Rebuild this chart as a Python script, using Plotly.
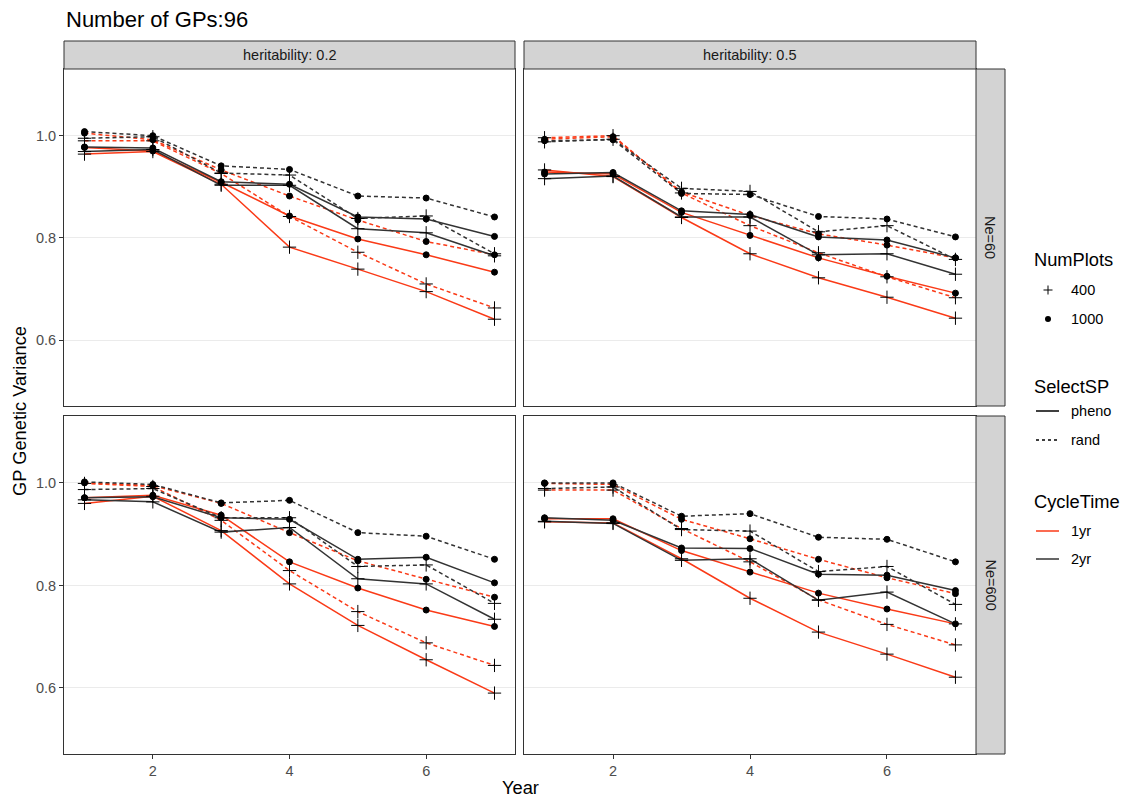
import plotly.graph_objects as go

years = [1, 2, 3, 4, 5, 6, 7]

# heritability 0.2, Ne=60
h02_ne60_1yr_pheno_400 = [0.964, 0.969, 0.905, 0.782, 0.739, 0.695, 0.641]
h02_ne60_1yr_pheno_1000 = [0.977, 0.970, 0.909, 0.843, 0.798, 0.767, 0.733]
h02_ne60_1yr_rand_400 = [0.990, 0.990, 0.926, 0.842, 0.772, 0.710, 0.663]
h02_ne60_1yr_rand_1000 = [1.005, 0.992, 0.933, 0.882, 0.835, 0.793, 0.767]
h02_ne60_2yr_pheno_400 = [0.969, 0.973, 0.903, 0.903, 0.818, 0.810, 0.765]
h02_ne60_2yr_pheno_1000 = [0.978, 0.976, 0.910, 0.905, 0.841, 0.837, 0.803]
h02_ne60_2yr_rand_400 = [0.995, 0.998, 0.927, 0.923, 0.838, 0.843, 0.769]
h02_ne60_2yr_rand_1000 = [1.008, 1.000, 0.941, 0.934, 0.882, 0.878, 0.841]

# heritability 0.5, Ne=60
h05_ne60_1yr_pheno_400 = [0.933, 0.920, 0.840, 0.769, 0.722, 0.684, 0.643]
h05_ne60_1yr_pheno_1000 = [0.929, 0.925, 0.850, 0.805, 0.761, 0.725, 0.692]
h05_ne60_1yr_rand_400 = [0.996, 1.000, 0.888, 0.824, 0.771, 0.724, 0.683]
h05_ne60_1yr_rand_1000 = [0.993, 0.998, 0.890, 0.844, 0.808, 0.786, 0.761]
h05_ne60_2yr_pheno_400 = [0.916, 0.921, 0.841, 0.841, 0.767, 0.769, 0.729]
h05_ne60_2yr_pheno_1000 = [0.925, 0.928, 0.853, 0.846, 0.802, 0.796, 0.761]
h05_ne60_2yr_rand_400 = [0.988, 0.993, 0.897, 0.891, 0.812, 0.824, 0.758]
h05_ne60_2yr_rand_1000 = [0.990, 0.992, 0.887, 0.885, 0.842, 0.837, 0.802]

# heritability 0.2, Ne=600
h02_ne600_1yr_pheno_400 = [0.960, 0.974, 0.907, 0.803, 0.722, 0.655, 0.590]
h02_ne600_1yr_pheno_1000 = [0.971, 0.976, 0.937, 0.846, 0.795, 0.752, 0.720]
h02_ne600_1yr_rand_400 = [0.999, 0.993, 0.927, 0.829, 0.749, 0.688, 0.644]
h02_ne600_1yr_rand_1000 = [1.000, 0.995, 0.960, 0.903, 0.848, 0.812, 0.777]
h02_ne600_2yr_pheno_400 = [0.967, 0.963, 0.904, 0.913, 0.813, 0.803, 0.734]
h02_ne600_2yr_pheno_1000 = [0.971, 0.973, 0.932, 0.929, 0.851, 0.855, 0.805]
h02_ne600_2yr_rand_400 = [0.987, 0.989, 0.932, 0.932, 0.837, 0.840, 0.765]
h02_ne600_2yr_rand_1000 = [1.002, 0.997, 0.961, 0.966, 0.903, 0.896, 0.851]

# heritability 0.5, Ne=600
h05_ne600_1yr_pheno_400 = [0.924, 0.922, 0.852, 0.775, 0.709, 0.666, 0.621]
h05_ne600_1yr_pheno_1000 = [0.930, 0.930, 0.868, 0.826, 0.785, 0.754, 0.725]
h05_ne600_1yr_rand_400 = [0.986, 0.986, 0.911, 0.846, 0.772, 0.724, 0.684]
h05_ne600_1yr_rand_1000 = [0.999, 0.997, 0.929, 0.891, 0.851, 0.815, 0.784]
h05_ne600_2yr_pheno_400 = [0.925, 0.921, 0.849, 0.852, 0.771, 0.787, 0.725]
h05_ne600_2yr_pheno_1000 = [0.932, 0.927, 0.873, 0.872, 0.822, 0.820, 0.790]
h05_ne600_2yr_rand_400 = [0.989, 0.992, 0.909, 0.906, 0.827, 0.837, 0.763]
h05_ne600_2yr_rand_1000 = [1.000, 1.000, 0.935, 0.940, 0.894, 0.890, 0.846]

x_ticks = [2, 4, 6]
y_ticks = [0.6, 0.8, 1.0]
y_tick_labels = ["0.6", "0.8", "1.0"]
col_labels = ["heritability: 0.2", "heritability: 0.5"]
row_labels = ["Ne=60", "Ne=600"]

W, H = 1123, 799
FONT = "Liberation Sans, Arial, sans-serif"
RED = "#FA3A17"
DARK = "#333333"
colors = {"1yr": RED, "2yr": DARK}
dashes = {"pheno": "solid", "rand": "4px,3px"}
symbols = {"400": "cross-thin-open", "1000": "circle"}
sizes = {"400": 9.5, "1000": 6}
LINE_W = 1.5

panels = {
    (0, 0): {"1yr_pheno_400": h02_ne60_1yr_pheno_400, "1yr_pheno_1000": h02_ne60_1yr_pheno_1000,
             "1yr_rand_400": h02_ne60_1yr_rand_400, "1yr_rand_1000": h02_ne60_1yr_rand_1000,
             "2yr_pheno_400": h02_ne60_2yr_pheno_400, "2yr_pheno_1000": h02_ne60_2yr_pheno_1000,
             "2yr_rand_400": h02_ne60_2yr_rand_400, "2yr_rand_1000": h02_ne60_2yr_rand_1000},
    (0, 1): {"1yr_pheno_400": h05_ne60_1yr_pheno_400, "1yr_pheno_1000": h05_ne60_1yr_pheno_1000,
             "1yr_rand_400": h05_ne60_1yr_rand_400, "1yr_rand_1000": h05_ne60_1yr_rand_1000,
             "2yr_pheno_400": h05_ne60_2yr_pheno_400, "2yr_pheno_1000": h05_ne60_2yr_pheno_1000,
             "2yr_rand_400": h05_ne60_2yr_rand_400, "2yr_rand_1000": h05_ne60_2yr_rand_1000},
    (1, 0): {"1yr_pheno_400": h02_ne600_1yr_pheno_400, "1yr_pheno_1000": h02_ne600_1yr_pheno_1000,
             "1yr_rand_400": h02_ne600_1yr_rand_400, "1yr_rand_1000": h02_ne600_1yr_rand_1000,
             "2yr_pheno_400": h02_ne600_2yr_pheno_400, "2yr_pheno_1000": h02_ne600_2yr_pheno_1000,
             "2yr_rand_400": h02_ne600_2yr_rand_400, "2yr_rand_1000": h02_ne600_2yr_rand_1000},
    (1, 1): {"1yr_pheno_400": h05_ne600_1yr_pheno_400, "1yr_pheno_1000": h05_ne600_1yr_pheno_1000,
             "1yr_rand_400": h05_ne600_1yr_rand_400, "1yr_rand_1000": h05_ne600_1yr_rand_1000,
             "2yr_pheno_400": h05_ne600_2yr_pheno_400, "2yr_pheno_1000": h05_ne600_2yr_pheno_1000,
             "2yr_rand_400": h05_ne600_2yr_rand_400, "2yr_rand_1000": h05_ne600_2yr_rand_1000},
}

def px(x):
    return x / W

def py(y):
    return 1 - y / H

col_px = [(64, 515), (524, 976)]
row_px = [(69, 406), (416, 754)]
strip_top = (41, 69)
strip_right = (976, 1005)

TICK_SIZE = 14.5
STRIP_SIZE = 14.5
LEG_LABEL_SIZE = 14.5
LEG_TITLE_SIZE = 18.3
AXIS_TITLE_SIZE = 18.3
TITLE_SIZE = 22

fig = go.Figure()
layout = {}
order = ["1yr_pheno_400", "1yr_pheno_1000", "1yr_rand_400", "1yr_rand_1000",
         "2yr_pheno_400", "2yr_pheno_1000", "2yr_rand_400", "2yr_rand_1000"]

for (r, c), series in panels.items():
    idx = r * 2 + c + 1
    xa = "x" if idx == 1 else f"x{idx}"
    ya = "y" if idx == 1 else f"y{idx}"
    for key in order:
        ct, sp, npl = key.split("_")
        fig.add_trace(go.Scatter(x=years, y=series[key], mode="lines", xaxis=xa, yaxis=ya,
                                 line=dict(color=colors[ct], width=LINE_W, dash=dashes[sp]),
                                 showlegend=False, hoverinfo="skip"))
    for key in order:
        ct, sp, npl = key.split("_")
        fig.add_trace(go.Scatter(x=years, y=series[key], mode="markers", xaxis=xa, yaxis=ya,
                                 marker=dict(symbol=symbols[npl], size=sizes[npl], color="black",
                                             line=dict(color="black", width=1)),
                                 showlegend=False, name=key))
    xname = "xaxis" if idx == 1 else f"xaxis{idx}"
    yname = "yaxis" if idx == 1 else f"yaxis{idx}"
    layout[xname] = dict(domain=[px(col_px[c][0]), px(col_px[c][1])], range=[0.7, 7.3],
                         anchor=ya, tickvals=x_ticks, showgrid=False, zeroline=False,
                         showline=True, mirror=True, linecolor=DARK, linewidth=1,
                         ticks="outside" if r == 1 else "", ticklen=4, tickcolor=DARK,
                         showticklabels=(r == 1),
                         tickfont=dict(family=FONT, size=TICK_SIZE, color="#4D4D4D"))
    layout[yname] = dict(domain=[py(row_px[r][1]), py(row_px[r][0])], range=[0.4712, 1.1305],
                         anchor=xa, tickvals=y_ticks, ticktext=y_tick_labels,
                         showgrid=True, gridcolor="#EBEBEB", gridwidth=1, zeroline=False,
                         showline=True, mirror=True, linecolor=DARK, linewidth=1,
                         ticks="outside" if c == 0 else "", ticklen=4, tickcolor=DARK,
                         showticklabels=(c == 0),
                         tickfont=dict(family=FONT, size=TICK_SIZE, color="#4D4D4D"))

shapes = []
annotations = []
for c in range(2):
    shapes.append(dict(type="rect", xref="paper", yref="paper",
                       x0=px(col_px[c][0]), x1=px(col_px[c][1]), y0=py(strip_top[1]), y1=py(strip_top[0]),
                       fillcolor="#D3D3D3", line=dict(color=DARK, width=1)))
    annotations.append(dict(xref="paper", yref="paper", x=px((col_px[c][0] + col_px[c][1]) / 2),
                            y=py((strip_top[0] + strip_top[1]) / 2), text=col_labels[c], showarrow=False,
                            font=dict(family=FONT, size=STRIP_SIZE, color="#1A1A1A"),
                            xanchor="center", yanchor="middle"))
for r in range(2):
    shapes.append(dict(type="rect", xref="paper", yref="paper",
                       x0=px(strip_right[0]), x1=px(strip_right[1]), y0=py(row_px[r][1]), y1=py(row_px[r][0]),
                       fillcolor="#D3D3D3", line=dict(color=DARK, width=1)))
    annotations.append(dict(xref="paper", yref="paper", x=px((strip_right[0] + strip_right[1]) / 2),
                            y=py((row_px[r][0] + row_px[r][1]) / 2), text=row_labels[r], showarrow=False,
                            textangle=90, font=dict(family=FONT, size=STRIP_SIZE, color="#1A1A1A"),
                            xanchor="center", yanchor="middle"))

annotations.append(dict(xref="paper", yref="paper", x=px(64), y=py(20), text="Number of GPs:96",
                        showarrow=False, xanchor="left", yanchor="middle",
                        font=dict(family=FONT, size=TITLE_SIZE, color="black")))
annotations.append(dict(xref="paper", yref="paper", x=px(520), y=py(787), text="Year",
                        showarrow=False, xanchor="center", yanchor="middle",
                        font=dict(family=FONT, size=AXIS_TITLE_SIZE, color="black")))
annotations.append(dict(xref="paper", yref="paper", x=px(19), y=py(411), text="GP Genetic Variance",
                        showarrow=False, xanchor="center", yanchor="middle", textangle=-90,
                        font=dict(family=FONT, size=AXIS_TITLE_SIZE, color="black")))

def leg_title(text, y):
    annotations.append(dict(xref="paper", yref="paper", x=px(1032), y=py(y), text=text, showarrow=False,
                            xanchor="left", yanchor="middle",
                            font=dict(family=FONT, size=LEG_TITLE_SIZE, color="black")))

def leg_label(text, y):
    annotations.append(dict(xref="paper", yref="paper", x=px(1069), y=py(y), text=text, showarrow=False,
                            xanchor="left", yanchor="middle",
                            font=dict(family=FONT, size=LEG_LABEL_SIZE, color="black")))

leg_title("NumPlots", 259)
leg_title("SelectSP", 386)
leg_title("CycleTime", 501)
kx, ky = 1048, 290
shapes.append(dict(type="line", xref="paper", yref="paper", x0=px(kx - 4.5), x1=px(kx + 4.5), y0=py(ky), y1=py(ky),
                   line=dict(color="black", width=1)))
shapes.append(dict(type="line", xref="paper", yref="paper", x0=px(kx), x1=px(kx), y0=py(ky - 4.5), y1=py(ky + 4.5),
                   line=dict(color="black", width=1)))
leg_label("400", 290)
ky = 319
shapes.append(dict(type="circle", xref="paper", yref="paper", x0=px(kx - 3), x1=px(kx + 3),
                   y0=py(ky + 3), y1=py(ky - 3), fillcolor="black", line=dict(color="black", width=0)))
leg_label("1000", 319)
for y, col, dash, lab in [(411, "black", "solid", "pheno"), (440, "black", "3px,3px", "rand"),
                          (531, RED, "solid", "1yr"), (559, DARK, "solid", "2yr")]:
    shapes.append(dict(type="line", xref="paper", yref="paper", x0=px(1036), x1=px(1059), y0=py(y), y1=py(y),
                       line=dict(color=col, width=LINE_W, dash=dash)))
    leg_label(lab, y)

fig.update_layout(width=W, height=H, margin=dict(l=0, r=0, t=0, b=0),
                  paper_bgcolor="white", plot_bgcolor="white", showlegend=False,
                  shapes=shapes, annotations=annotations, **layout)

fig.write_html("out.html", config={"displayModeBar": False},
               post_script="document.body.style.margin='0';document.body.style.padding='0';"
                           "document.body.style.overflow='hidden';")
